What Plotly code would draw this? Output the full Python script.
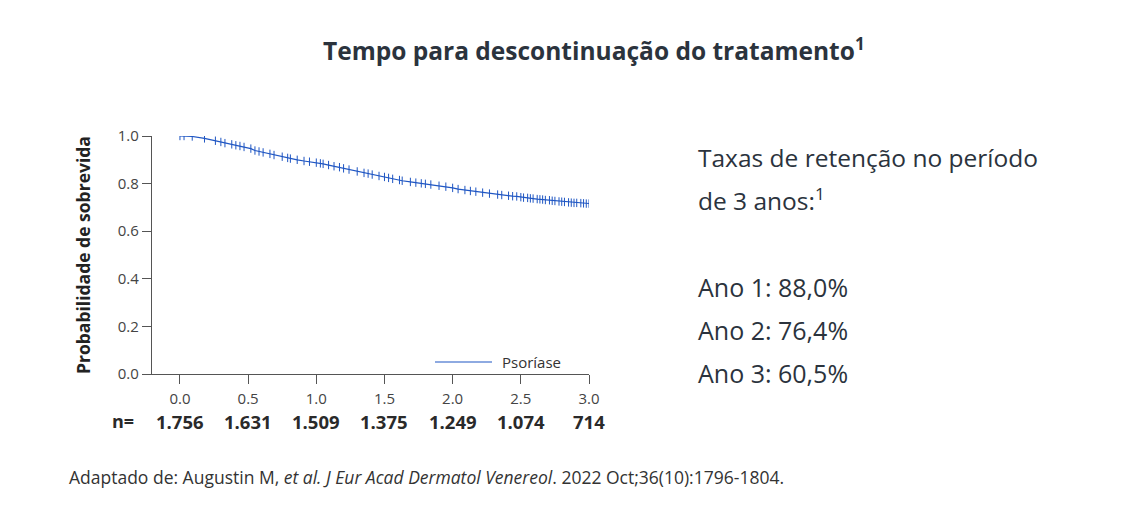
import plotly.graph_objects as go

# ---- data ----
time_years = [0.00, 0.03, 0.09, 0.18, 0.26, 0.30, 0.33, 0.38, 0.41, 0.44, 0.47, 0.52,
              0.55, 0.58, 0.61, 0.66, 0.69, 0.75, 0.79, 0.81, 0.86, 0.91, 0.95, 1.00,
              1.03, 1.05, 1.09, 1.13, 1.17, 1.20, 1.24, 1.30, 1.35, 1.38, 1.41, 1.46, 1.50,
              1.53, 1.56, 1.61, 1.63, 1.69, 1.73, 1.77, 1.80, 1.84, 1.90, 1.95, 2.00,
              2.04, 2.09, 2.13, 2.17, 2.22, 2.27, 2.33, 2.36, 2.41, 2.44, 2.47,
              2.50, 2.52, 2.55, 2.57, 2.59, 2.62, 2.64, 2.66, 2.68, 2.71, 2.73, 2.75,
              2.78, 2.80, 2.82, 2.85, 2.87, 2.89, 2.91, 2.94, 2.96, 2.98, 3.00, 3.03, 3.05]
survival = [1.000, 1.000, 0.998, 0.990, 0.980, 0.975, 0.970, 0.965, 0.961, 0.958, 0.954, 0.947,
            0.939, 0.935, 0.931, 0.925, 0.920, 0.913, 0.908, 0.905, 0.900, 0.895, 0.892, 0.888,
            0.885, 0.883, 0.878, 0.873, 0.869, 0.864, 0.859, 0.851, 0.845, 0.842, 0.838, 0.832, 0.828,
            0.824, 0.820, 0.815, 0.812, 0.807, 0.804, 0.801, 0.799, 0.796, 0.791, 0.787, 0.782,
            0.777, 0.773, 0.769, 0.766, 0.762, 0.758, 0.754, 0.752, 0.749, 0.747, 0.746,
            0.743, 0.741, 0.740, 0.738, 0.737, 0.735, 0.734, 0.733, 0.731, 0.730, 0.728, 0.727,
            0.725, 0.724, 0.723, 0.721, 0.720, 0.719, 0.719, 0.718, 0.717, 0.716, 0.716, 0.715, 0.715]

tick_vals = [0.0, 0.5, 1.0, 1.5, 2.0, 2.5, 3.0]
tick_text = ["0.0", "0.5", "1.0", "1.5", "2.0", "2.5", "3.0"]
n_at_risk = ["1.756", "1.631", "1.509", "1.375", "1.249", "1.074", "714"]

series_name = "Psoríase"
title_text = "Tempo para descontinuação do tratamento<sup>1</sup>"
y_title = "Probabilidade de sobrevida"
side_lines = ["Taxas de retenção no período", "de 3 anos:<sup>1</sup>",
              "Ano 1: 88,0%", "Ano 2: 76,4%", "Ano 3: 60,5%"]
footnote = ("Adaptado de: Augustin M, <i>et al. J Eur Acad Dermatol Venereol</i>. "
            "2022 Oct;36(10):1796-1804.")

# ---- layout geometry (pixels, in screenshot coordinates) ----
OFF = 8  # page body margin
W, H = 1124 - OFF, 517 - OFF
L, R, T, B = 152, 589, 136, 374
FONT = "Open Sans"
BLUE = "#1f56c3"
DARK = "#2b333d"


def px(x):
    return (x - L) / (R - L)


def py(y):
    return (B - y) / (B - T)


fig = go.Figure()
fig.add_trace(go.Scatter(
    x=time_years, y=survival, mode="lines+markers", name=series_name,
    line=dict(color=BLUE, width=1.2),
    marker=dict(symbol="line-ns-open", size=6, color=BLUE, line=dict(color=BLUE, width=1)),
    showlegend=False, hoverinfo="x+y"))

annotations = []
annotations.append(dict(text=title_text, x=px(594), y=py(50), xref="paper", yref="paper",
                        showarrow=False, xanchor="center", yanchor="middle",
                        font=dict(family=FONT, size=24.5, color=DARK, weight="bold")))
annotations.append(dict(text=y_title, x=px(83), y=py(255), xref="paper", yref="paper",
                        textangle=-90, showarrow=False, xanchor="center", yanchor="middle",
                        font=dict(family=FONT, size=17.5, color="#222222", weight="bold")))
annotations.append(dict(text="n=", x=px(123), y=py(421), xref="paper", yref="paper",
                        showarrow=False, xanchor="center", yanchor="middle",
                        font=dict(family=FONT, size=18, color="#2a2a2a", weight="bold")))
for tv, n in zip(tick_vals, n_at_risk):
    annotations.append(dict(text=n, x=tv, y=py(421), xref="x", yref="paper",
                            showarrow=False, xanchor="center", yanchor="middle",
                            font=dict(family=FONT, size=18.5, color="#2a2a2a", weight="bold")))
side_y = [157, 199, 287, 330, 373]
side_size = [24.5, 24.5, 25, 25, 25]
for s, yy, sz in zip(side_lines, side_y, side_size):
    annotations.append(dict(text=s, x=px(696), y=py(yy), xref="paper", yref="paper",
                            showarrow=False, xanchor="left", yanchor="middle",
                            font=dict(family=FONT, size=sz, color=DARK)))
annotations.append(dict(text=series_name, x=px(500), y=py(362), xref="paper", yref="paper",
                        showarrow=False, xanchor="left", yanchor="middle",
                        font=dict(family=FONT, size=15, color="#333333")))
annotations.append(dict(text=footnote, x=px(67), y=py(477), xref="paper", yref="paper",
                        showarrow=False, xanchor="left", yanchor="middle",
                        font=dict(family=FONT, size=17.5, color="#333333")))

shapes = [dict(type="line", xref="paper", yref="paper", x0=px(435), x1=px(492),
               y0=py(362), y1=py(362), line=dict(color=BLUE, width=1.2))]

fig.update_layout(
    width=W, height=H, autosize=False,
    margin=dict(l=L - OFF, r=W - (R - OFF), t=T - OFF, b=H - (B - OFF), pad=0),
    paper_bgcolor="white", plot_bgcolor="white",
    annotations=annotations, shapes=shapes,
    xaxis=dict(range=[-0.205, 3.0], tickvals=tick_vals, ticktext=tick_text,
               showgrid=False, zeroline=False, showline=True, linecolor="#555555",
               linewidth=1.3, ticks="outside", ticklen=9, tickcolor="#555555",
               ticklabelstandoff=2,
               tickfont=dict(family=FONT, size=15, color="#444444"), automargin=False),
    yaxis=dict(range=[0, 1.0], tickvals=[0, 0.2, 0.4, 0.6, 0.8, 1.0],
               ticktext=["0.0", "0.2", "0.4", "0.6", "0.8", "1.0"],
               showgrid=False, zeroline=False, showline=True, linecolor="#555555",
               linewidth=1.3, ticks="outside", ticklen=9, tickcolor="#555555",
               tickfont=dict(family=FONT, size=15, color="#444444"), automargin=False),
)

fig.write_html("out.html")
